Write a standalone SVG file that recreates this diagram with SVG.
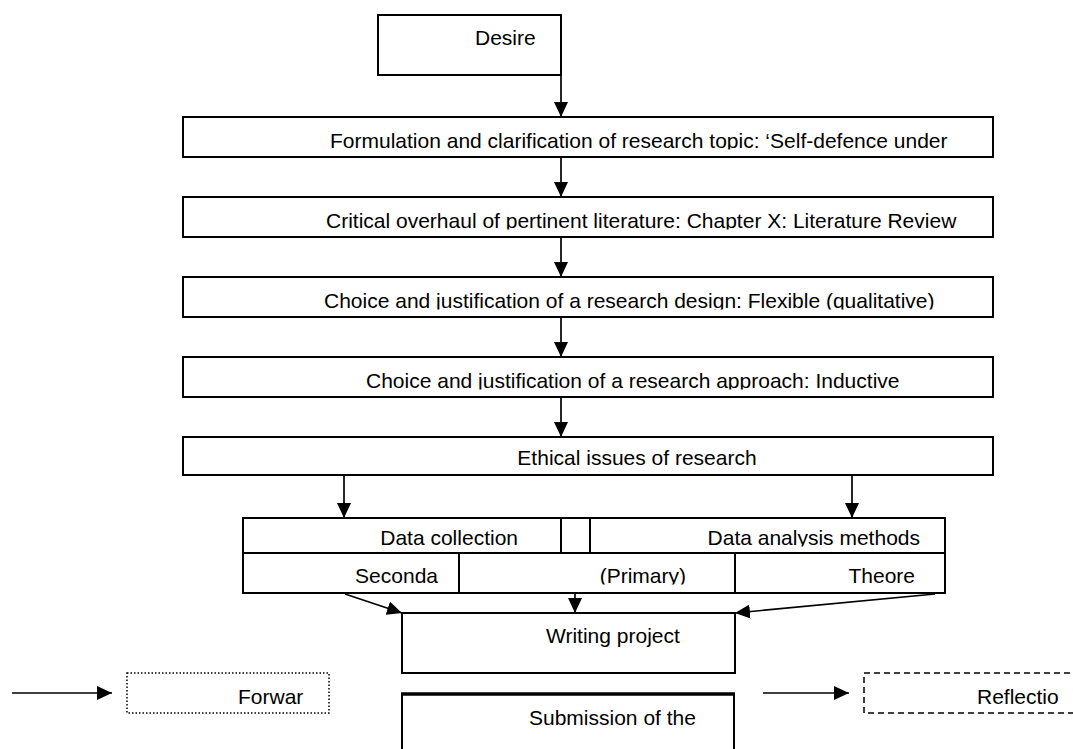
<svg xmlns="http://www.w3.org/2000/svg" width="1073" height="749" viewBox="0 0 1073 749">
<style>
.box{fill:#fff;stroke:#000;stroke-width:2}
.t{font-family:"Liberation Sans",Arial,sans-serif;font-size:21px;fill:#000}
.m{text-anchor:middle}
.e{text-anchor:end}
.conn line{stroke:#000;stroke-width:1.7}
</style>
<defs>
<marker id="ah" viewBox="0 0 15 14" refX="15" refY="7" markerWidth="15" markerHeight="14" markerUnits="userSpaceOnUse" orient="auto"><path d="M0,0 L15,7 L0,14 z" fill="#000"/></marker>
<clipPath id="c2"><rect x="183" y="117" width="810" height="32.5"/></clipPath>
<clipPath id="c3"><rect x="183" y="197" width="810" height="32.5"/></clipPath>
<clipPath id="c4"><rect x="183" y="277" width="810" height="32.5"/></clipPath>
<clipPath id="c5"><rect x="183" y="357" width="810" height="32.5"/></clipPath>
<clipPath id="r1"><rect x="243" y="518" width="710" height="28.5"/></clipPath>
<clipPath id="r2"><rect x="243" y="553" width="710" height="31.5"/></clipPath>
</defs>
<rect width="1073" height="749" fill="#fff"/>
<g id="desire"><rect class="box" x="378" y="15" width="183" height="60"/><text class="t" x="475" y="45">Desire</text></g>
<g id="formulation"><rect class="box" x="183" y="117" width="810" height="40"/><text class="t" x="330" y="148" clip-path="url(#c2)">Formulation and clarification of research topic: ‘Self-defence under</text></g>
<g id="literature"><rect class="box" x="183" y="197" width="810" height="40"/><text class="t" x="326" y="228" clip-path="url(#c3)">Critical overhaul of pertinent literature: Chapter X: Literature Review</text></g>
<g id="design"><rect class="box" x="183" y="277" width="810" height="40"/><text class="t" x="324" y="308" clip-path="url(#c4)">Choice and justification of a research design: Flexible (qualitative)</text></g>
<g id="approach"><rect class="box" x="183" y="357" width="810" height="40"/><text class="t" x="366" y="388" clip-path="url(#c5)">Choice and justification of a research approach: Inductive</text></g>
<g id="ethical"><rect class="box" x="183" y="437" width="810" height="38"/><text class="t m" x="637" y="465">Ethical issues of research</text></g>
<g id="table">
<rect class="box" x="243" y="518" width="702" height="75"/>
<line x1="243" y1="553" x2="945" y2="553" stroke="#000" stroke-width="2"/>
<line x1="561" y1="518" x2="561" y2="553" stroke="#000" stroke-width="2"/>
<line x1="590" y1="518" x2="590" y2="553" stroke="#000" stroke-width="2"/>
<line x1="459" y1="553" x2="459" y2="593" stroke="#000" stroke-width="2"/>
<line x1="735" y1="553" x2="735" y2="593" stroke="#000" stroke-width="2"/>
<g clip-path="url(#r1)"><text class="t e" x="518" y="545">Data collection</text><text class="t e" x="920" y="545">Data analysis methods</text></g>
<g clip-path="url(#r2)"><text class="t e" x="438" y="583">Seconda</text><text class="t e" x="686" y="583">(Primary)</text><text class="t e" x="915" y="583">Theore</text></g>
</g>
<g id="writing"><rect class="box" x="402" y="613" width="333" height="60"/><text class="t" x="546" y="643">Writing project</text></g>
<g id="submission"><path d="M402,749 V694 H734 V749" fill="#fff" stroke="#000" stroke-width="2"/><line x1="401" y1="694" x2="735" y2="694" stroke="#000" stroke-width="3.5"/><text class="t" x="529" y="725">Submission of the</text></g>
<g id="forward"><rect x="127" y="673" width="202" height="40" fill="#fff" stroke="#000" stroke-width="1.5" stroke-dasharray="1.5 2"/><text class="t" x="238" y="704">Forwar</text></g>
<g id="reflection"><rect x="864" y="673" width="230" height="40" fill="#fff" stroke="#000" stroke-width="1.5" stroke-dasharray="6 4"/><text class="t" x="977" y="704">Reflectio</text></g>
<g id="connectors" class="conn">
<line x1="561" y1="75" x2="561" y2="117" marker-end="url(#ah)"/>
<line x1="561" y1="157" x2="561" y2="197" marker-end="url(#ah)"/>
<line x1="561" y1="237" x2="561" y2="277" marker-end="url(#ah)"/>
<line x1="561" y1="317" x2="561" y2="357" marker-end="url(#ah)"/>
<line x1="561" y1="397" x2="561" y2="437" marker-end="url(#ah)"/>
<line x1="344" y1="475" x2="344" y2="518" marker-end="url(#ah)"/>
<line x1="852" y1="475" x2="852" y2="518" marker-end="url(#ah)"/>
<line x1="345" y1="594" x2="402" y2="613" marker-end="url(#ah)"/>
<line x1="575" y1="593" x2="575" y2="613" marker-end="url(#ah)"/>
<line x1="935" y1="594" x2="735" y2="613" marker-end="url(#ah)"/>
<line x1="12" y1="693" x2="112" y2="693" marker-end="url(#ah)"/>
<line x1="763" y1="693" x2="849" y2="693" marker-end="url(#ah)"/>
</g>
</svg>
